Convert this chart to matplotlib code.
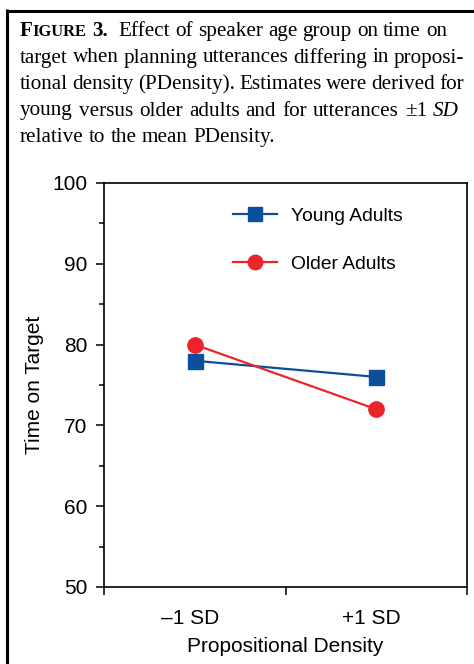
import matplotlib
matplotlib.use('Agg')
import matplotlib.pyplot as plt
import numpy as np
from matplotlib.lines import Line2D
from matplotlib.transforms import ScaledTranslation

# ---------------- data ----------------
categories = ['\u20131 SD', '+1 SD']
young = [78, 76]
older = [80, 72]
series_labels = ['Young Adults', 'Older Adults']
yticks = [50, 60, 70, 80, 90, 100]
yminor = [55, 65, 75, 85, 95]
xlabel = 'Propositional Density'
ylabel = 'Time on Target'

BLUE = '#0b4f9c'
RED = '#ec2329'

W, H = 474, 664
fig = plt.figure(figsize=(W / 100, H / 100), dpi=100)
renderer = fig.canvas.get_renderer()

SANS = 'Liberation Sans'
SERIF = 'Liberation Serif'

# ---------------- outer frame (top + left) ----------------
fig.add_artist(Line2D([6 / W, 1.0], [1 - 10.5 / H, 1 - 10.5 / H], color='black', lw=2.2,
                      transform=fig.transFigure, solid_capstyle='butt'))
fig.add_artist(Line2D([7 / W, 7 / W], [1 - 9.4 / H, 0.0], color='black', lw=2.2,
                      transform=fig.transFigure, solid_capstyle='butt'))

# ---------------- caption ----------------
CAP = 15.2
base = dict(family=SERIF, size=CAP)
bold = dict(base, weight='bold')
smallcap = dict(bold, size=CAP * 0.78)
ital = dict(base, style='italic')


def w(s, props):
    t = fig.text(0, 0, s, **props)
    bb = t.get_window_extent(renderer)
    t.remove()
    return bb.width


space_w = w('a a', base) - w('aa', base)


def words_of(text, props):
    return [[(tok, props)] for tok in text.split(' ')]


caption_lines = [
    ([[('F', bold), ('IGURE', smallcap)], [('3.', bold)]] + words_of('Effect of speaker age group on time on', base),
     [1, 2] + [1] * 7, 447),
    (words_of('target when planning utterances differing in proposi-', base), None, 464),
    (words_of('tional density (PDensity). Estimates were derived for', base), None, 464),
    (words_of('young versus older adults and for utterances \u00b11', base) + [[('SD', ital)]], None, 459),
    (words_of('relative to the mean PDensity.', base), None, None),
]
baselines = [36, 62.5, 89, 115.5, 142]
X0 = 20

for (words, weights, right), yb in zip(caption_lines, baselines):
    n_gaps = len(words) - 1
    if weights is None:
        weights = [1] * n_gaps
    widths = [sum(w(s, p) for s, p in word) for word in words]
    if right is not None:
        unit = (right - X0 - sum(widths)) / sum(weights)
    else:
        unit = space_w
    x = X0
    for i, word in enumerate(words):
        xx = x
        for s, p in word:
            fig.text(xx / W, 1 - yb / H, s, ha='left', va='baseline', **p)
            xx += w(s, p)
        x += widths[i]
        if i < n_gaps:
            x += unit * weights[i]

# ---------------- axes ----------------
ax = fig.add_axes([104 / W, (H - 587) / H, (467 - 104) / W, (587 - 183) / H])
xpos = np.arange(len(categories)) + 0.5

ax.plot(xpos, young, color=BLUE, marker='s', ms=10.8, lw=1.6, label=series_labels[0])
ax.plot(xpos, older, color=RED, marker='o', ms=11, lw=1.6, label=series_labels[1])

ax.set_xlim(0, 2)
ax.set_ylim(50, 100)
ax.set_xticks([0, 1, 2])
ax.set_xticklabels([])
ax.set_xticks(xpos, minor=True)
ax.set_xticklabels(categories, minor=True, family=SANS, fontsize=15)
ax.set_yticks(yticks)
ax.set_yticklabels([str(v) for v in yticks], family=SANS, fontsize=15)
ax.set_yticks(yminor, minor=True)

ax.tick_params(axis='x', which='major', length=5.8, width=1.1, direction='out')
ax.tick_params(axis='x', which='minor', length=0, pad=15.5)
ax.tick_params(axis='y', which='major', length=5.8, width=1.1, direction='out', pad=6)
ax.tick_params(axis='y', which='minor', length=3.6, width=1.1, direction='out')

for lbl in ax.get_xticklabels(minor=True):
    lbl.set_transform(lbl.get_transform() + ScaledTranslation(-5 / 100, 0, fig.dpi_scale_trans))

for sp in ax.spines.values():
    sp.set_linewidth(1.2)

ax.set_xlabel(xlabel, family=SANS, fontsize=15, labelpad=7)
ax.set_ylabel(ylabel, family=SANS, fontsize=15, labelpad=6)

leg = ax.legend(loc='upper left', bbox_to_anchor=((233 - 104) / 363, (587 - 207) / 404),
                frameon=False, prop=dict(family=SANS, size=13.9), handlelength=2.3,
                handletextpad=0.7, labelspacing=1.6, borderpad=0, borderaxespad=0,
                markerscale=0.95)

fig.savefig('out.png', dpi=100)
